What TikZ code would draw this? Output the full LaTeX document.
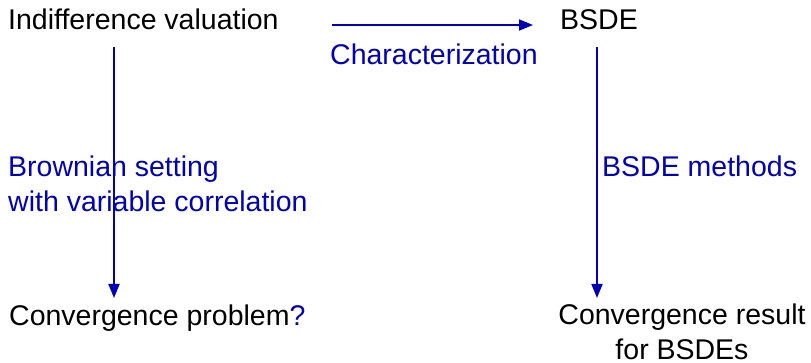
\documentclass[tikz,border=0pt]{standalone}
\usepackage{fontspec}
\setmainfont{Liberation Sans}
\usetikzlibrary{arrows.meta,calc}
\definecolor{linkblue}{RGB}{0,0,180}
\begin{document}
\begin{tikzpicture}[x=1pt,y=-1pt,
  every node/.style={inner sep=0pt, font=\fontsize{28.5}{35}\selectfont},
  term/.style={text=black, anchor=base west},
  note/.style={text=linkblue, anchor=base west, align=left},
  arr/.style={draw=linkblue, line width=1.8pt, -{Triangle[length=14pt,width=11pt]}}]
\useasboundingbox (0,0) rectangle (811,363);

% statements (multi-line nodes are anchored at the baseline of their last line)
\node[term] (iv) at (8,30) {Indifference valuation};
\node[term] (bsde) at (560,30) {BSDE};
\node[term] (cp) at (9,325) {Convergence problem\textcolor{linkblue}{?}};
\node[text=black, align=center, anchor=base] (cr) at (682,359) {Convergence result\\for BSDEs};

% edge labels
\node[note] (lchar) at (330,65) {Characterization};
\node[note] (lbrown) at (8,212) {Brownian setting\\with variable correlation};
\node[note] (lmeth) at (602,177) {BSDE methods};

% columns of the vertical arrows
\coordinate (lx) at (114,0);
\coordinate (rx) at (597,0);

% arrows
\draw[arr] ($(iv.base east)+(53,-5)$) -- ($(bsde.base west)+(-27,-5)$);
\draw[arr] ($(iv.base -| lx)+(0,17)$) -- ($(cp.base -| lx)+(0,-27)$);
\draw[arr] ($(bsde.base -| rx)+(0,17)$) -- ($(cr.base -| rx)+(0,-61)$);
\end{tikzpicture}
\end{document}
